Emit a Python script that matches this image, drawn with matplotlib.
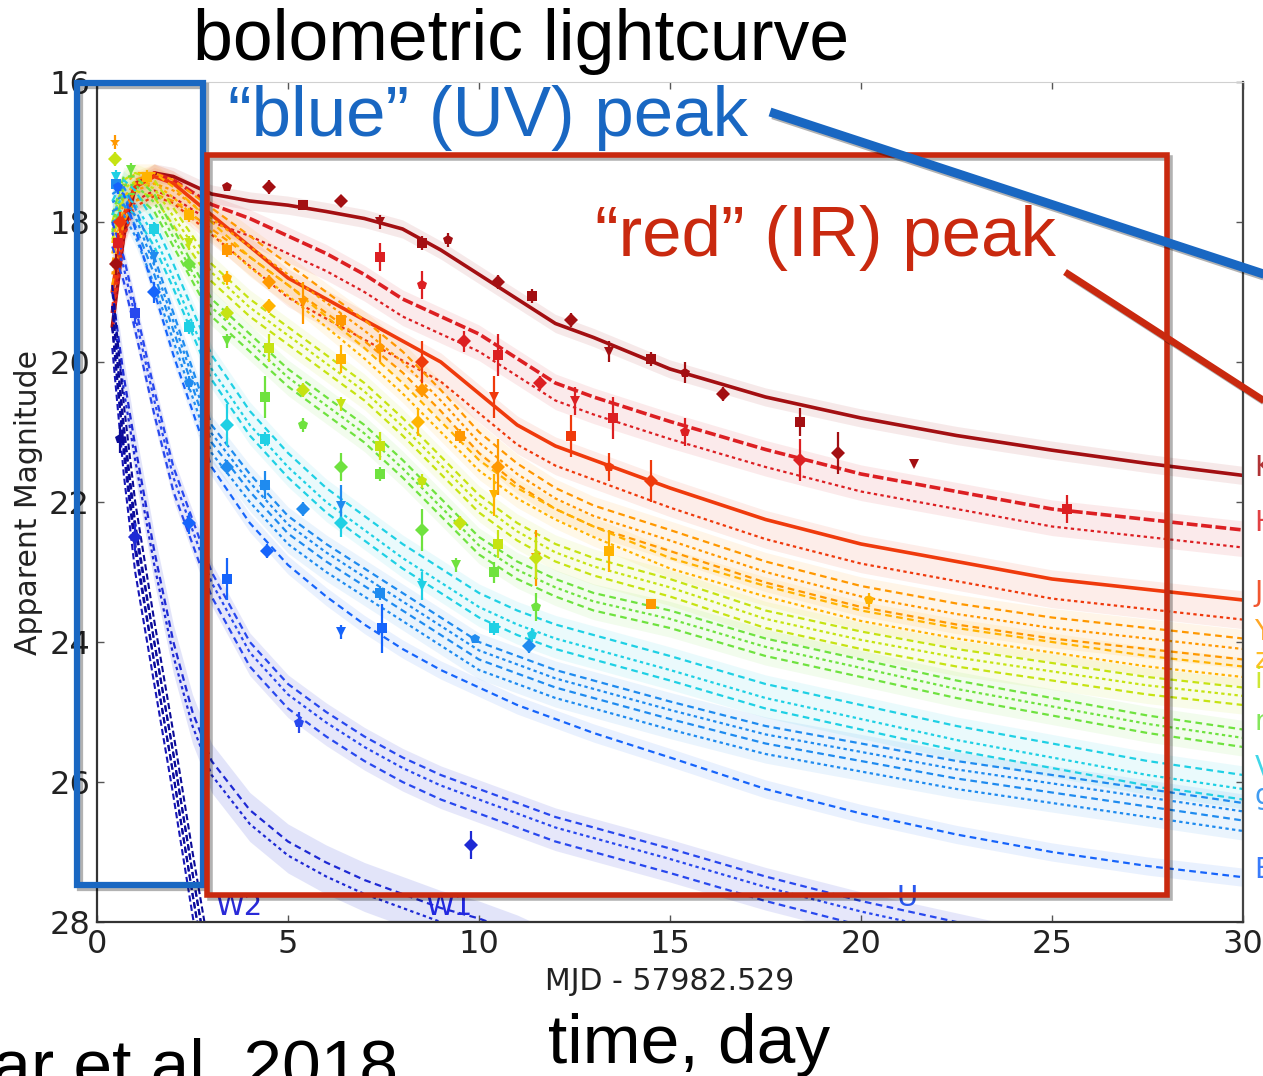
import numpy as np
import matplotlib
matplotlib.use('Agg')
import matplotlib.pyplot as plt
import matplotlib.patheffects as pe
from matplotlib.patches import Rectangle
from matplotlib.lines import Line2D

# model grid, days after MJD 57982.529
t_model = [0.4, 0.7, 1.0, 1.5, 2.0, 3.0, 4.0, 5.0, 6.0, 7.0, 8.0, 9.0, 10.0, 11.0,
           12.0, 13.0, 15.0, 17.5, 20.0, 22.5, 25.0, 27.5, 30.0]

mag_K = [19.5, 18.2, 17.5, 17.3, 17.35, 17.6, 17.7, 17.76, 17.85, 17.95, 18.1, 18.4, 18.75,
         19.1, 19.45, 19.65, 20.1, 20.5, 20.8, 21.05, 21.26, 21.45, 21.62]
mag_H = [19.3, 18.0, 17.45, 17.3, 17.4, 17.75, 17.95, 18.2, 18.45, 18.75, 19.1, 19.35, 19.6,
         19.95, 20.3, 20.5, 20.85, 21.25, 21.6, 21.85, 22.1, 22.25, 22.4]
mag_J = [19.0, 17.9, 17.5, 17.35, 17.45, 17.9, 18.35, 18.8, 19.1, 19.4, 19.7, 20.0, 20.45,
         20.9, 21.2, 21.4, 21.8, 22.25, 22.6, 22.85, 23.1, 23.25, 23.4]
mag_Y = [18.6, 17.7, 17.4, 17.3, 17.4, 17.8, 18.2, 18.6, 19.0, 19.4, 19.85, 20.4, 21.0,
         21.45, 21.8, 22.05, 22.4, 22.85, 23.2, 23.45, 23.65, 23.8, 23.95]
mag_z = [18.3, 17.5, 17.3, 17.3, 17.5, 18.0, 18.5, 18.9, 19.35, 19.8, 20.3, 20.85, 21.4,
         21.8, 22.1, 22.35, 22.8, 23.2, 23.55, 23.8, 24.0, 24.2, 24.35]
mag_i = [18.0, 17.4, 17.3, 17.4, 17.8, 18.6, 19.1, 19.5, 19.9, 20.3, 20.8, 21.35, 21.9,
         22.3, 22.6, 22.8, 23.1, 23.55, 23.85, 24.1, 24.3, 24.5, 24.65]
mag_r = [17.9, 17.35, 17.35, 17.6, 18.1, 19.1, 19.6, 20.1, 20.5, 20.9, 21.4, 21.95, 22.5,
         22.85, 23.1, 23.3, 23.55, 23.95, 24.25, 24.55, 24.8, 25.05, 25.25]
mag_V = [17.7, 17.4, 17.55, 18.0, 18.6, 19.9, 20.7, 21.3, 21.8, 22.2, 22.6, 22.95, 23.3,
         23.55, 23.75, 23.9, 24.2, 24.6, 24.9, 25.2, 25.45, 25.7, 25.9]
mag_g = [17.6, 17.5, 17.8, 18.5, 19.3, 20.9, 21.6, 22.2, 22.6, 22.95, 23.3, 23.65, 24.0,
         24.2, 24.4, 24.55, 24.85, 25.2, 25.45, 25.7, 25.9, 26.1, 26.3]
mag_B = [17.5, 17.6, 18.1, 19.0, 19.9, 21.5, 22.3, 22.9, 23.35, 23.75, 24.1, 24.4, 24.65,
         24.9, 25.1, 25.3, 25.65, 26.1, 26.45, 26.75, 27.0, 27.2, 27.36]
mag_U = [18.0, 18.5, 19.2, 20.4, 21.5, 23.0, 24.0, 24.6, 25.0, 25.35, 25.65, 25.9, 26.1,
         26.3, 26.5, 26.65, 26.95, 27.35, 27.7, 28.0, 28.3, 28.55, 28.8]

# swift UV bands fade fast, own grids
t_w1 = [0.4, 0.7, 1.0, 1.5, 2.0, 2.5, 3.0, 4.0, 5.0, 6.0, 7.0, 8.0, 9.0, 10.0, 11.0, 12.0]
mag_W1 = [19.0, 20.2, 21.2, 22.7, 24.0, 25.0, 25.7, 26.4, 26.85, 27.15, 27.4, 27.6, 27.8,
          27.95, 28.15, 28.4]
t_w2 = [0.4, 0.7, 1.0, 1.5, 2.0, 2.5, 3.0, 3.5]
mag_M2 = [19.2, 21.0, 22.4, 24.0, 25.6, 27.3, 28.9, 30.3]
mag_W2 = [18.9, 20.6, 22.0, 23.7, 25.3, 27.0, 28.6, 30.0]

# extra instruments in the same filter (offset in mag from the main curve)
off_K = [0.0]
off_H = [0.0, 0.25]
off_J = [0.0, 0.28]
off_Y = [0.0, 0.15, 0.3]
off_z = [0.0, 0.15]
off_i = [0.0, 0.12, 0.25]
off_r = [0.0, 0.12, 0.25]
off_V = [0.0, 0.2, 0.35]
off_g = [0.0, 0.12, 0.25, 0.4]
off_B = [0.0]
off_U = [0.0, 0.15, 0.35]
off_W1 = [0.0, 0.2]
off_UV2 = [0.0, 0.3, 0.6]

# photometry
obs_band = ['Y', 'i', 'V', 'g', 'B', 'K', 'H', 'J', 'r', 'z', 'W2', 'W1', 'U', 'B', 'g', 'V',
            'g', 'B', 'V', 'r', 'i', 'z',
            'K', 'K', 'K', 'K', 'K', 'K', 'K', 'K', 'K', 'K', 'K', 'K', 'K', 'K', 'K', 'K', 'K',
            'H', 'H', 'H', 'H', 'H', 'H', 'H', 'H', 'H', 'H',
            'J', 'J', 'J', 'J', 'J',
            'Y', 'Y', 'Y', 'Y', 'Y', 'Y', 'Y', 'Y', 'Y', 'Y',
            'z', 'z', 'z', 'z', 'z', 'z', 'z',
            'i', 'i', 'i', 'i', 'i', 'i', 'i', 'i', 'i',
            'r', 'r', 'r', 'r', 'r', 'r', 'r', 'r', 'r',
            'V', 'V', 'V', 'V', 'V', 'V',
            'g', 'g', 'g', 'g', 'g', 'g', 'g',
            'B', 'B', 'B', 'B',
            'U', 'W1']
obs_t = [0.47, 0.47, 0.5, 0.5, 0.55, 0.5, 0.55, 0.6, 0.9, 1.3, 0.6, 1.0, 1.0, 1.5, 1.5, 1.5,
         2.4, 2.4, 2.4, 2.4, 2.4, 2.4,
         3.4, 4.5, 5.4, 6.4, 7.4, 8.5, 9.2, 10.5, 11.4, 12.4, 13.4, 14.5, 15.4, 16.4, 18.4, 19.4, 21.4,
         7.4, 8.5, 9.6, 10.5, 11.6, 12.5, 13.5, 15.4, 18.4, 25.4,
         8.5, 10.4, 12.4, 13.4, 14.5,
         3.4, 4.5, 5.4, 6.4, 7.4, 8.5, 9.5, 10.5, 11.5, 14.5,
         3.4, 4.5, 6.4, 8.4, 10.4, 13.4, 20.2,
         3.4, 4.5, 5.4, 6.4, 7.4, 8.5, 9.5, 10.5, 11.5,
         3.4, 4.4, 5.4, 6.4, 7.4, 8.5, 9.4, 10.4, 11.5,
         3.4, 4.4, 6.4, 8.5, 10.4, 11.4,
         3.4, 4.4, 5.4, 6.4, 7.4, 9.9, 11.3,
         3.4, 4.45, 6.4, 7.45,
         5.3, 9.8]
obs_mag = [16.85, 17.1, 17.35, 17.45, 17.5, 18.6, 18.3, 18.0, 17.25, 17.35, 21.1, 22.5, 19.3,
           19.0, 18.5, 18.1,
           20.3, 22.3, 19.5, 18.6, 18.3, 17.9,
           17.5, 17.5, 17.75, 17.7, 18.0, 18.3, 18.25, 18.85, 19.05, 19.4, 19.85, 19.95, 20.15,
           20.45, 20.85, 21.3, 21.45,
           18.5, 18.9, 19.7, 19.9, 20.3, 20.55, 20.8, 21.0, 21.4, 22.1,
           20.0, 20.5, 21.05, 21.5, 21.7,
           18.4, 18.85, 19.15, 19.4, 19.8, 20.4, 21.05, 21.5, 22.8, 23.45,
           18.8, 19.2, 19.95, 20.85, 21.9, 22.7, 23.4,
           19.3, 19.8, 20.4, 20.6, 21.2, 21.7, 22.3, 22.6, 22.8,
           19.7, 20.5, 20.9, 21.5, 21.6, 22.4, 22.9, 23.0, 23.5,
           20.9, 21.1, 22.3, 23.2, 23.8, 23.9,
           21.5, 21.75, 22.1, 22.05, 23.3, 23.95, 24.05,
           23.1, 22.7, 23.85, 23.8,
           25.15, 26.9]
obs_err = [0.1, 0.1, 0.1, 0.1, 0.1, 0.15, 0.15, 0.15, 0.1, 0.1, 0.2, 0.2, 0.15, 0.15, 0.1, 0.1,
           0.1, 0.15, 0.1, 0.1, 0.1, 0.1,
           0.05, 0.1, 0.05, 0.05, 0.1, 0.1, 0.1, 0.1, 0.1, 0.1, 0.15, 0.1, 0.15, 0.1, 0.2, 0.3, 0.05,
           0.2, 0.2, 0.15, 0.3, 0.1, 0.2, 0.3, 0.2, 0.3, 0.2,
           0.3, 0.3, 0.3, 0.2, 0.3,
           0.1, 0.1, 0.3, 0.1, 0.2, 0.1, 0.1, 0.4, 0.4, 0.05,
           0.1, 0.1, 0.2, 0.2, 0.3, 0.3, 0.1,
           0.1, 0.2, 0.1, 0.1, 0.2, 0.1, 0.1, 0.2, 0.3,
           0.1, 0.3, 0.1, 0.2, 0.1, 0.3, 0.1, 0.15, 0.2,
           0.3, 0.1, 0.2, 0.2, 0.1, 0.1,
           0.1, 0.2, 0.1, 0.3, 0.1, 0.05, 0.1,
           0.3, 0.1, 0.1, 0.35,
           0.15, 0.2]

band_color = {'K': '#a30f12', 'H': '#dc1f22', 'J': '#ef3a0c', 'Y': '#ff9800', 'z': '#ffb300',
              'i': '#c6e312', 'r': '#6fe23f', 'V': '#1fd0e4', 'g': '#1f8bef', 'B': '#1664fb',
              'U': '#2848ee', 'W1': '#1e2ad4', 'M2': '#1616b6', 'W2': '#0b0b98'}

W, H = 1263, 1076


def fx(px):
    return px / W


def fy(py):
    return 1 - py / H


fig = plt.figure(figsize=(W / 100, H / 100), dpi=100)
ax = fig.add_axes([fx(97), fy(922), (1243 - 97) / W, (922 - 82) / H])

optical = [('K', mag_K, off_K), ('H', mag_H, off_H), ('J', mag_J, off_J), ('Y', mag_Y, off_Y),
           ('z', mag_z, off_z), ('i', mag_i, off_i), ('r', mag_r, off_r), ('V', mag_V, off_V),
           ('g', mag_g, off_g), ('B', mag_B, off_B), ('U', mag_U, off_U)]

for name, mags, offs in optical:
    c = band_color[name]
    m = np.array(mags)
    shade = '#b8bdf2' if name == 'U' else c
    ax.fill_between(t_model, m - 0.13, m + offs[-1] + 0.13, color=shade,
                    alpha=0.35 if name == 'U' else 0.09, lw=0)
    for k, o in enumerate(offs):
        if name in ('K', 'J') and k == 0:
            ax.plot(t_model, m + o, color=c, lw=2.6, solid_capstyle='round')
        elif name == 'H' and k == 0:
            ax.plot(t_model, m + o, color=c, lw=2.6, ls=(0, (3, 1)))
        else:
            ax.plot(t_model, m + o, color=c, lw=1.6, ls=(0, (3, 2)) if k % 2 == 0 else (0, (1.5, 1.5)))
    # filter name at the right edge (U is labelled inside the axes)
    if name != 'U':
        ax.text(30.3, m[-1] - 0.1, name, color=c, fontsize=20, va='center', ha='left',
                clip_on=False, alpha=0.85)

# UV bands
m1 = np.array(mag_W1)
ax.fill_between(t_w1, m1 - 0.25, m1 + off_W1[-1] + 0.25, color='#b8bdf2', alpha=0.4, lw=0)
for k, o in enumerate(off_W1):
    ax.plot(t_w1, m1 + o, color=band_color['W1'], lw=1.6, ls=(0, (3, 2)) if k == 0 else (0, (1.5, 1.5)))
for name, mags in (('M2', mag_M2), ('W2', mag_W2)):
    m2 = np.array(mags)
    for k, o in enumerate(off_UV2):
        ax.plot(t_w2, m2 + o, color=band_color[name], lw=1.5, ls=(0, (3, 1.5)))

# data points
markers = ['s', 'D', 'v', 's', 'p', 'D']
for n, (b, t, m, e) in enumerate(zip(obs_band, obs_t, obs_mag, obs_err)):
    c = band_color[b]
    mk = markers[n % len(markers)]
    if n == 0:
        mk = '*'
    ax.errorbar(t, m, yerr=e, fmt=mk, color=c, ecolor=c, ms=7, mew=0, elinewidth=1.6,
                capsize=3, capthick=1.2, zorder=4)

ax.text(3.7, 27.78, 'W2', color='#2a2ad8', fontsize=21, ha='center', va='center')
ax.text(9.2, 27.78, 'W1', color='#2228e0', fontsize=21, ha='center', va='center')
ax.text(21.2, 27.65, 'U', color='#2a58ee', fontsize=21, ha='center', va='center')

ax.set_xlim(0, 30)
ax.set_ylim(28, 16)
ax.set_xticks([0, 5, 10, 15, 20, 25, 30])
ax.set_yticks([16, 18, 20, 22, 24, 26, 28])
ax.tick_params(direction='in', top=True, right=True, length=5, width=1,
               labelsize=23, pad=5, colors='#555555')
ax.tick_params(labelcolor='#222222')
ax.set_xlabel('MJD - 57982.529', fontsize=21.5, color='#222222', labelpad=5)
ax.set_ylabel('Apparent Magnitude', fontsize=21.5, color='#222222', labelpad=4)
for s in ['left', 'bottom']:
    ax.spines[s].set_color('#333333')
    ax.spines[s].set_linewidth(1.6)
ax.spines['right'].set_color('#444444')
ax.spines['right'].set_linewidth(1.6)
ax.spines['top'].set_color('#d0d0d0')

# slide annotations
blue = '#1967c2'
red = '#c9290f'
shadow = [pe.SimpleLineShadow(offset=(2, -2), shadow_color='k', alpha=0.3), pe.Normal()]

fig.add_artist(Rectangle((fx(77), fy(885)), (203 - 77) / W, (885 - 83) / H, fill=False,
                         ec=blue, lw=4.5, transform=fig.transFigure, path_effects=shadow))
fig.add_artist(Rectangle((fx(207), fy(895)), (1167 - 207) / W, (895 - 155) / H, fill=False,
                         ec=red, lw=4.0, transform=fig.transFigure, path_effects=shadow))
fig.add_artist(Line2D([fx(770), fx(1300)], [fy(112), fy(286)], color=blue, lw=6.5,
                      solid_capstyle='butt', transform=fig.transFigure, path_effects=shadow))
fig.add_artist(Line2D([fx(1065), fx(1300)], [fy(272), fy(424)], color=red, lw=5.0,
                      solid_capstyle='butt', transform=fig.transFigure, path_effects=shadow))

font = 'Liberation Sans'
fig.text(fx(193), fy(60), 'bolometric lightcurve', fontsize=51.5, family=font, va='baseline')
fig.text(fx(228), fy(136), '\u201cblue\u201d (UV) peak', fontsize=51, family=font,
         color=blue, va='baseline')
fig.text(fx(595), fy(256), '\u201cred\u201d (IR) peak', fontsize=51, family=font,
         color=red, va='baseline')
fig.text(fx(548), fy(1063), 'time, day', fontsize=50, family=font, va='baseline')
fig.text(fx(398), fy(1087), 'Villar et al. 2018', fontsize=50, family=font, va='baseline',
         ha='right')

fig.savefig('out.png', dpi=100)
